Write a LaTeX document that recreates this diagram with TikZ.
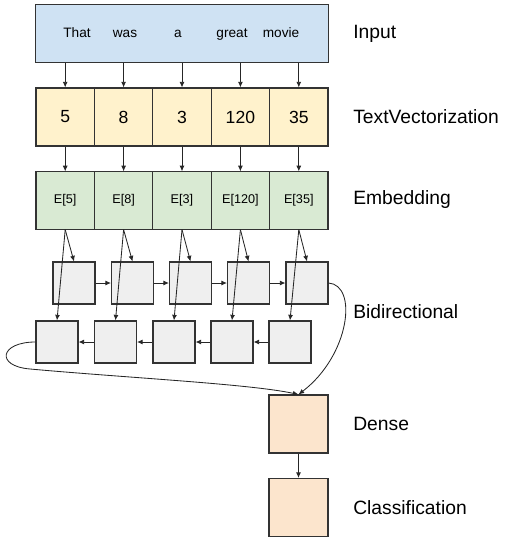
\documentclass[tikz,border=0pt]{standalone}
\usepackage{fontspec}
\setmainfont{Liberation Sans}
\usepackage{tikz}
\usetikzlibrary{arrows.meta}
\definecolor{inBlue}{HTML}{CFE2F3}
\definecolor{vecYellow}{HTML}{FFF2CC}
\definecolor{embGreen}{HTML}{D9EAD3}
\definecolor{rnnGray}{HTML}{EFEFEF}
\definecolor{outOrange}{HTML}{FCE5CD}
\begin{document}
\begin{tikzpicture}[x=0.025cm,y=-0.025cm,
  box/.style={draw=black!80, line width=0.75pt, inner sep=0pt},
  inbox/.style={box, fill=inBlue, minimum width=7.3cm, minimum height=1.43cm},
  vec/.style={box, fill=vecYellow, minimum width=1.46cm, minimum height=1.45cm, font=\fontsize{12.5}{14}\selectfont},
  emb/.style={box, fill=embGreen, minimum width=1.46cm, minimum height=1.43cm, font=\fontsize{9}{11}\selectfont},
  cell/.style={box, fill=rnnGray, minimum size=1.05cm},
  outbox/.style={box, fill=outOrange, minimum width=1.475cm, minimum height=1.45cm},
  lbl/.style={anchor=west, inner sep=0pt, font=\fontsize{13.7}{16}\selectfont},
  arr/.style={-{Latex[length=4pt,width=3.5pt]}, line width=0.6pt, black!85}]
\useasboundingbox (0,0) rectangle (507,550);
% input sentence
\node[inbox] (inp) at (182,33.5) {};
\foreach \i/\w/\x in {1/That/77,2/was/125,3/a/178,4/great/232,5/movie/281}
  \node[anchor=base, font=\fontsize{9.7}{12}\selectfont] (w\i) at (\x,37.5) {\w};
% token ids and embeddings
\foreach \i/\x/\t in {1/65.2/5,2/123.6/8,3/182/3,4/240.4/120,5/298.8/35}{
  \node[vec] (t\i) at (\x,117) {\t};
  \node[emb] (e\i) at (\x,200.5) {E[\t]};
}
% bidirectional cells: forward row (f), backward row (b)
\foreach \i/\u/\v in {1/74/57,2/132.5/115.5,3/190.5/174,4/248.5/232,5/307/290}{
  \node[cell] (f\i) at (\u,283) {};
  \node[cell] (b\i) at (\v,342) {};
}
\node[outbox] (dns) at (298.5,424) {};
\node[outbox] (cls) at (298.5,507.5) {};
% layer names
\node[lbl] (lin)  at (353,34)  {Input};
\node[lbl] (ltv)  at (353,117) {TextVectorization};
\node[lbl] (lemb) at (353,200) {Embedding};
\node[lbl] (lbi)  at (353,312) {Bidirectional};
\node[lbl] (lden) at (353,424) {Dense};
\node[lbl] (lcls) at (353,508) {Classification};
% connections
\foreach \i in {1,...,5}{
  \draw[arr] (inp.south -| t\i.north) -- (t\i.north);
  \draw[arr] (t\i) -- (e\i);
  \draw[arr] (e\i.south) -- (f\i.north);
  \draw[arr] (e\i.south) -- (b\i.north);
}
\foreach \i [count=\j from 2] in {1,...,4}{
  \draw[arr] (f\i) -- (f\j);
  \draw[arr] (b\j) -- (b\i);
}
\draw[arr] (f5.east) .. controls (358,285) and (350,355) .. (dns.north);
\draw[arr] (b1.west) .. controls (0,342) and (-5,366) .. (30,369)
  .. controls (130,378) and (250,384) .. (dns.north);
\draw[arr] (dns) -- (cls);
\end{tikzpicture}
\end{document}
